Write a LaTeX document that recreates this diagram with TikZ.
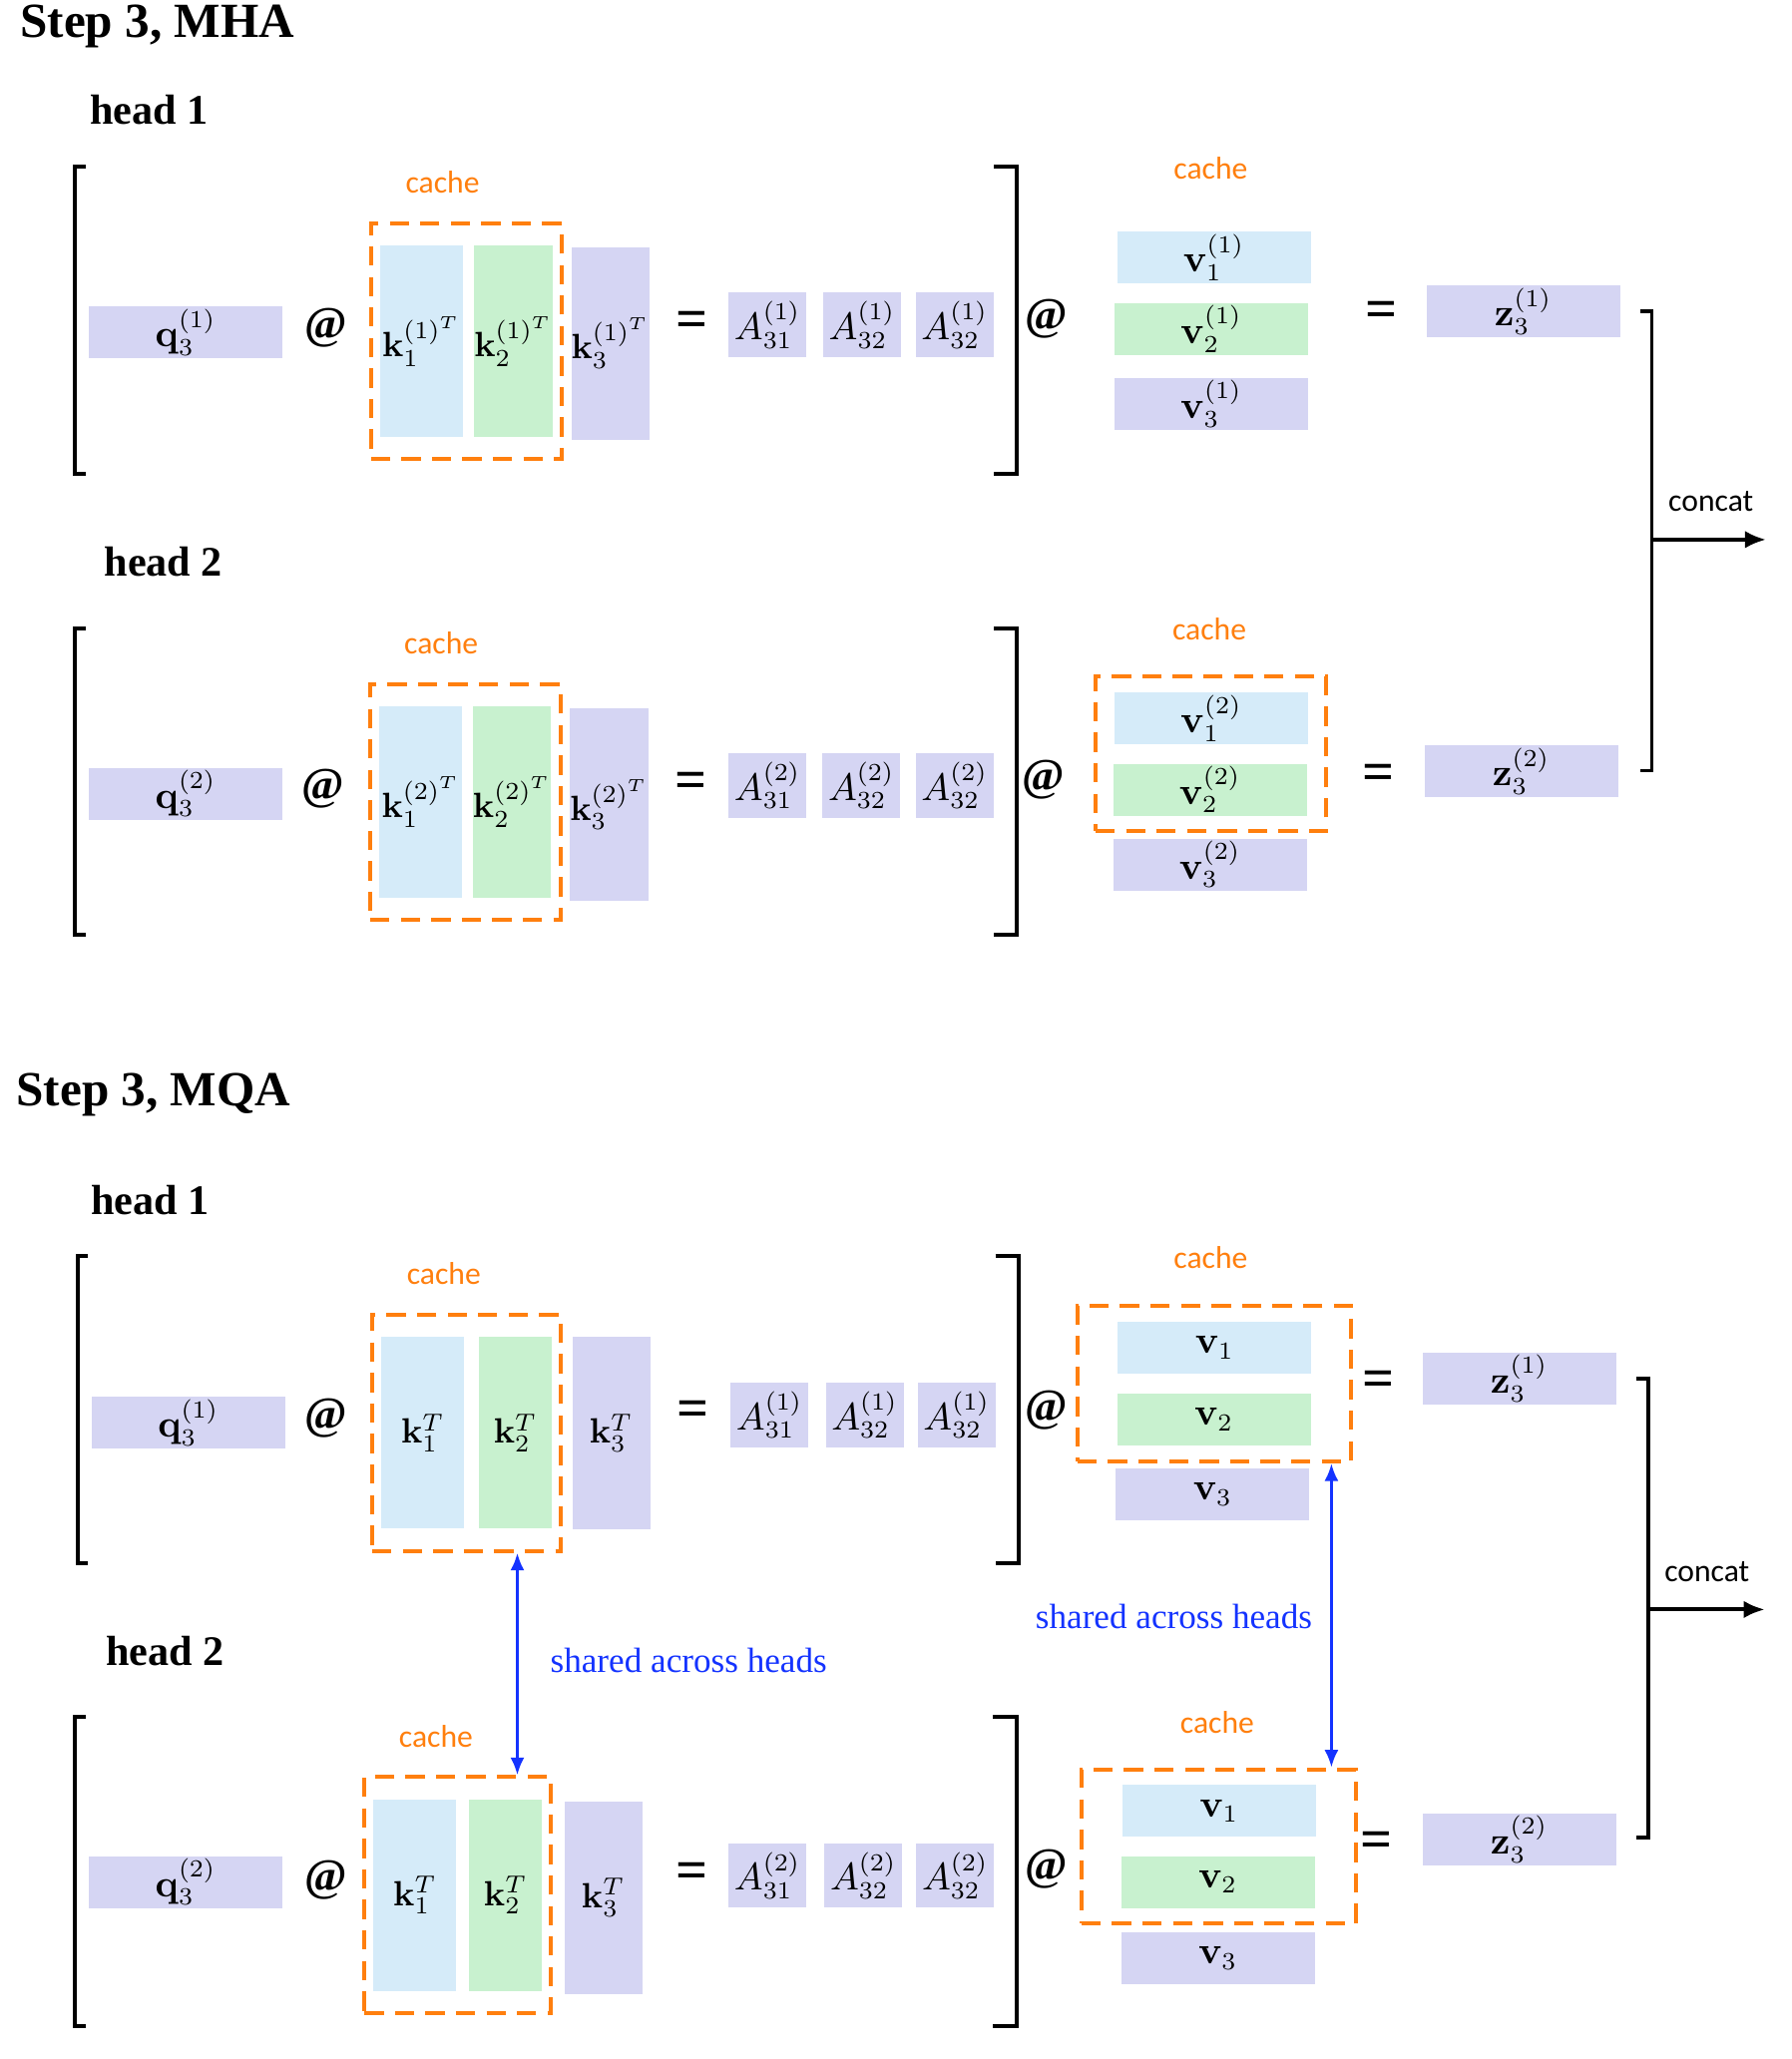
\documentclass[tikz,border=0pt]{standalone}
\usepackage[no-math]{fontspec}
\setmainfont{Liberation Serif}
\newfontfamily\calibrifont{Carlito}
\usepackage{amsmath}
\usetikzlibrary{arrows.meta, positioning, fit}
\definecolor{kvBlue}{HTML}{D5EBF9}
\definecolor{kvGreen}{HTML}{C8F1CF}
\definecolor{qPurple}{HTML}{D5D5F3}
\definecolor{cacheOrange}{HTML}{FF7F0E}
\definecolor{shareBlue}{HTML}{1433FF}

\begin{document}
\begin{tikzpicture}[
    mathtxt/.style={inner sep=0pt, font=\fontsize{10.5}{12}\selectfont},
    vecbox/.style={mathtxt, rectangle, minimum width=1.94cm, minimum height=0.52cm},
    kcol/.style={inner sep=0pt, font=\fontsize{10}{12}\selectfont, minimum height=1.92cm},
    kfirst/.style={kcol, fill=kvBlue, minimum width=0.83cm},
    ksecond/.style={kcol, fill=kvGreen, minimum width=0.73cm},
    kthird/.style={kcol, fill=qPurple, minimum width=0.78cm, minimum height=1.93cm},
    scorebox/.style={mathtxt, fill=qPurple, minimum width=0.78cm, minimum height=0.645cm},
    cachebox/.style={draw=cacheOrange, line width=1.1pt, dash pattern=on 5.5pt off 3.2pt,
                     inner xsep=0.085cm, inner ysep=0.215cm},
    cachetag/.style={font=\calibrifont\fontsize{9}{11}\selectfont, text=cacheOrange},
    atsym/.style={inner sep=0pt, font=\bfseries\fontsize{13}{15}\selectfont},
    eqsym/.style={inner sep=0pt, font=\bfseries\fontsize{16}{18}\selectfont},
    title/.style={anchor=west, inner sep=0pt, font=\bfseries\fontsize{14}{17}\selectfont},
    headtag/.style={anchor=west, inner sep=0pt, font=\bfseries\fontsize{12}{14}\selectfont},
    sharedtag/.style={text=shareBlue, font=\fontsize{10}{12}\selectfont},
    brk/.style={line width=1.1pt},
    sharedarr/.style={draw=shareBlue, line width=0.9pt, {Latex[length=5pt,width=4pt]}-{Latex[length=5pt,width=4pt]}},
  ]
    \useasboundingbox (0,0) rectangle (17.95,-20.64);

    % ---------------- MHA ----------------
    \node[title] (mhaT) at (0.197,-0.263) {Step 3, MHA};

    % head 1
    \node[headtag] (a1h) at (0.895,-1.105) {head 1};
    \draw[brk] (0.855,-1.671) -- (0.75,-1.671) -- (0.75,-4.751) -- (0.855,-4.751);
    \node[vecbox, fill=qPurple] (a1q) at (1.862,-3.329) {$\mathbf{q}_3^{(1)}$};
    \node[atsym] (a1at) at (3.264,-3.29) {@};
    \node[kfirst] (a1k1) at (4.224,-3.422) {$\mathbf{k}_1^{(1)^T}$};
    \node[ksecond] (a1k2) at (5.146,-3.422) {$\mathbf{k}_2^{(1)^T}$};
    \node[kthird] (a1k3) at (6.119,-3.441) {$\mathbf{k}_3^{(1)^T}$};
    \node[cachebox, fit=(a1k1)(a1k2)] (a1kc) {};
    \node[cachetag] (a1kt) at (4.435,-1.829) {cache};
    \node[eqsym] (a1eq) at (6.935,-3.25) {=};
    \foreach \j/\x/\s in {1/7.692/31,2/8.64/32,3/9.567/32}
      \node[scorebox] (a1A\j) at (\x,-3.257) {$A_{\s}^{(1)}$};
    \draw[brk] (9.962,-1.671) -- (10.186,-1.671) -- (10.186,-4.751) -- (9.962,-4.751);
    \node[atsym] (a1at2) at (10.489,-3.198) {@};
    \node[cachetag] (a1vt) at (12.134,-1.684) {cache};
    \node[vecbox, fill=kvBlue] (a1v1) at (12.166,-2.579) {$\mathbf{v}_1^{(1)}$};
    \node[vecbox, fill=kvGreen] (a1v2) at (12.14,-3.297) {$\mathbf{v}_2^{(1)}$};
    \node[vecbox, fill=qPurple] (a1v3) at (12.14,-4.047) {$\mathbf{v}_3^{(1)}$};
    \node[eqsym] (a1eq2) at (13.844,-3.158) {=};
    \node[vecbox, fill=qPurple] (a1z) at (15.266,-3.119) {$\mathbf{z}_3^{(1)}$};

    % head 2
    \node[headtag] (a2h) at (1.04,-5.632) {head 2};
    \draw[brk] (0.855,-6.304) -- (0.75,-6.304) -- (0.75,-9.37) -- (0.855,-9.37);
    \node[vecbox, fill=qPurple] (a2q) at (1.862,-7.955) {$\mathbf{q}_3^{(2)}$};
    \node[atsym] (a2at) at (3.237,-7.909) {@};
    \node[kfirst] (a2k1) at (4.218,-8.041) {$\mathbf{k}_1^{(2)^T}$};
    \node[ksecond] (a2k2) at (5.132,-8.041) {$\mathbf{k}_2^{(2)^T}$};
    \node[kthird] (a2k3) at (6.106,-8.067) {$\mathbf{k}_3^{(2)^T}$};
    \node[cachebox, fit=(a2k1)(a2k2)] (a2kc) {};
    \node[cachetag] (a2kt) at (4.422,-6.448) {cache};
    \node[eqsym] (a2eq) at (6.922,-7.87) {=};
    \foreach \j/\x/\s in {1/7.692/31,2/8.633/32,3/9.567/32}
      \node[scorebox] (a2A\j) at (\x,-7.876) {$A_{\s}^{(2)}$};
    \draw[brk] (9.962,-6.304) -- (10.186,-6.304) -- (10.186,-9.37) -- (9.962,-9.37);
    \node[atsym] (a2at2) at (10.462,-7.817) {@};
    \node[cachetag] (a2vt) at (12.12,-6.304) {cache};
    \node[vecbox, fill=kvBlue] (a2v1) at (12.14,-7.199) {$\mathbf{v}_1^{(2)}$};
    \node[vecbox, fill=kvGreen] (a2v2) at (12.127,-7.916) {$\mathbf{v}_2^{(2)}$};
    \node[vecbox, fill=qPurple] (a2v3) at (12.127,-8.666) {$\mathbf{v}_3^{(2)}$};
    \node[cachebox, inner xsep=0.17cm, inner ysep=0.15cm, fit=(a2v1)(a2v2)] (a2vc) {};
    \node[eqsym] (a2eq2) at (13.818,-7.791) {=};
    \node[vecbox, fill=qPurple] (a2z) at (15.246,-7.732) {$\mathbf{z}_3^{(2)}$};

    % concat
    \draw[brk] (16.437,-3.119) -| (16.555,-7.725) -- (16.437,-7.725);
    \coordinate (aCat) at (16.555,-5.409);
    \coordinate (aOut) at (17.70,-5.409);
    \draw[brk, -{Latex[length=6pt,width=5pt]}] (aCat) -- (aOut);
    \node[font=\calibrifont\fontsize{9}{11}\selectfont] (aCatT) at (17.147,-5.027) {concat};

    % ---------------- MQA ----------------
    \node[title] (mqaT) at (0.158,-10.975) {Step 3, MQA};

    % head 1
    \node[headtag] (b1h) at (0.908,-12.028) {head 1};
    \draw[brk] (0.882,-12.594) -- (0.776,-12.594) -- (0.776,-15.674) -- (0.882,-15.674);
    \node[vecbox, fill=qPurple] (b1q) at (1.888,-14.259) {$\mathbf{q}_3^{(1)}$};
    \node[atsym] (b1at) at (3.264,-14.213) {@};
    \node[kfirst] (b1k1) at (4.238,-14.364) {$\mathbf{k}_1^T$};
    \node[ksecond] (b1k2) at (5.165,-14.364) {$\mathbf{k}_2^T$};
    \node[kthird] (b1k3) at (6.126,-14.364) {$\mathbf{k}_3^T$};
    \node[cachebox, fit=(b1k1)(b1k2)] (b1kc) {};
    \node[cachetag] (b1kt) at (4.448,-12.765) {cache};
    \node[eqsym] (b1eq) at (6.948,-14.173) {=};
    \foreach \j/\x/\s in {1/7.712/31,2/8.666/32,3/9.587/32}
      \node[scorebox] (b1A\j) at (\x,-14.186) {$A_{\s}^{(1)}$};
    \draw[brk] (9.975,-12.594) -- (10.212,-12.594) -- (10.212,-15.674) -- (9.975,-15.674);
    \node[atsym] (b1at2) at (10.489,-14.134) {@};
    \node[cachetag] (b1vt) at (12.134,-12.607) {cache};
    \node[vecbox, fill=kvBlue] (b1v1) at (12.173,-13.509) {$\mathbf{v}_1$};
    \node[vecbox, fill=kvGreen] (b1v2) at (12.166,-14.233) {$\mathbf{v}_2$};
    \node[vecbox, fill=qPurple] (b1v3) at (12.153,-14.976) {$\mathbf{v}_3$};
    \node[cachebox, inner xsep=0.39cm, inner ysep=0.15cm, fit=(b1v1)(b1v2)] (b1vc) {};
    \node[eqsym] (b1eq2) at (13.818,-13.871) {=};
    \node[vecbox, fill=qPurple] (b1z) at (15.226,-13.818) {$\mathbf{z}_3^{(1)}$};

    % head 2
    \node[headtag] (b2h) at (1.053,-16.555) {head 2};
    \draw[brk] (0.855,-17.213) -- (0.75,-17.213) -- (0.75,-20.306) -- (0.855,-20.306);
    \node[vecbox, fill=qPurple] (b2q) at (1.862,-18.865) {$\mathbf{q}_3^{(2)}$};
    \node[atsym] (b2at) at (3.264,-18.845) {@};
    \node[kfirst] (b2k1) at (4.159,-18.996) {$\mathbf{k}_1^T$};
    \node[ksecond] (b2k2) at (5.067,-18.996) {$\mathbf{k}_2^T$};
    \node[kthird] (b2k3) at (6.047,-19.023) {$\mathbf{k}_3^T$};
    \node[cachebox, fit=(b2k1)(b2k2)] (b2kc) {};
    \node[cachetag] (b2kt) at (4.369,-17.411) {cache};
    \node[eqsym] (b2eq) at (6.935,-18.806) {=};
    \foreach \j/\x/\s in {1/7.692/31,2/8.653/32,3/9.574/32}
      \node[scorebox] (b2A\j) at (\x,-18.799) {$A_{\s}^{(2)}$};
    \draw[brk] (9.949,-17.213) -- (10.186,-17.213) -- (10.186,-20.306) -- (9.949,-20.306);
    \node[atsym] (b2at2) at (10.489,-18.74) {@};
    \node[cachetag] (b2vt) at (12.199,-17.266) {cache};
    \node[vecbox, fill=kvBlue] (b2v1) at (12.219,-18.154) {$\mathbf{v}_1$};
    \node[vecbox, fill=kvGreen] (b2v2) at (12.206,-18.865) {$\mathbf{v}_2$};
    \node[vecbox, fill=qPurple] (b2v3) at (12.206,-19.628) {$\mathbf{v}_3$};
    \node[cachebox, inner xsep=0.39cm, inner ysep=0.15cm, fit=(b2v1)(b2v2)] (b2vc) {};
    \node[eqsym] (b2eq2) at (13.792,-18.49) {=};
    \node[vecbox, fill=qPurple] (b2z) at (15.226,-18.437) {$\mathbf{z}_3^{(2)}$};

    % shared caches
    \coordinate (kShare) at (5.185,0);
    \coordinate (vShare) at (13.344,0);
    \draw[sharedarr] (b1kc.south -| kShare) -- (b2kc.north -| kShare);
    \draw[sharedarr] (b1vc.south -| vShare) -- (b2vc.north -| vShare);
    \node[sharedtag] (kShareT) at (6.902,-16.647) {shared across heads};
    \node[sharedtag] (vShareT) at (11.765,-16.2) {shared across heads};

    % concat
    \draw[brk] (16.397,-13.818) -| (16.516,-18.424) -- (16.397,-18.424);
    \coordinate (bCat) at (16.516,-16.134);
    \coordinate (bOut) at (17.687,-16.134);
    \draw[brk, -{Latex[length=6pt,width=5pt]}] (bCat) -- (bOut);
    \node[font=\calibrifont\fontsize{9}{11}\selectfont] (bCatT) at (17.108,-15.753) {concat};
\end{tikzpicture}
\end{document}
